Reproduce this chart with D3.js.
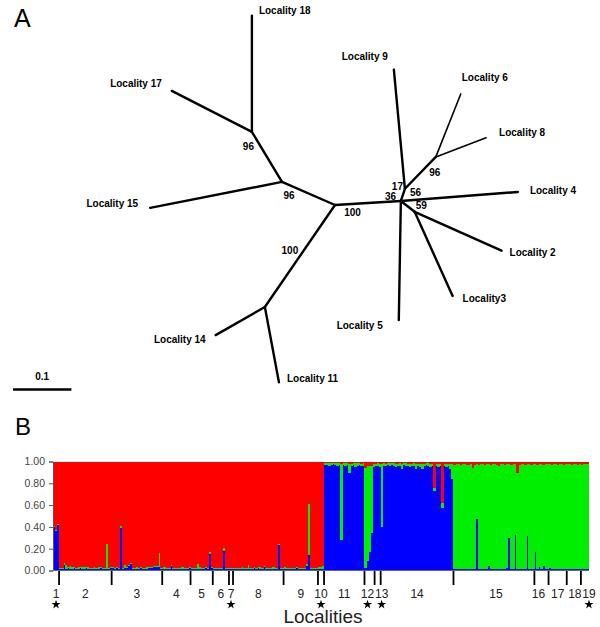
<!DOCTYPE html>
<html>
<head>
<meta charset="utf-8">
<script src="https://cdn.jsdelivr.net/npm/d3@7"></script>
<style>
  body { margin: 0; background: #fff; }
  svg { display: block; font-family: "Liberation Sans", Arial, sans-serif; }
</style>
</head>
<body>
<svg id="viz"></svg>
<script>
// ---- panel A: unrooted tree (branch length, angle in degrees) ----
const treeEdges = [
  ["C", "N96a", 0.099, 156.5],
  ["N96a", "N96top", 0.100, 121.0],
  ["N96top", "L18", 0.199, 90.0],
  ["N96top", "L17", 0.154, 152.9],
  ["N96a", "L15", 0.230, 191.1],
  ["C", "N100", 0.212, 235.5],
  ["N100", "L14", 0.097, 209.7],
  ["N100", "L11", 0.131, 280.6],
  ["C", "H", 0.113, 3.5],
  ["H", "N17", 0.022, 71.6],
  ["N17", "L9", 0.205, 95.3],
  ["N17", "N96b", 0.076, 45.9],
  ["N96b", "L6", 0.116, 68.4],
  ["N96b", "L8", 0.092, 20.8],
  ["H", "L4", 0.201, 4.4],
  ["H", "N59", 0.030, 321.8],
  ["N59", "L2", 0.163, 335.9],
  ["N59", "L3", 0.158, 294.3],
  ["H", "L5", 0.204, 269.0]
];
const leafNames = {
  L18: "Locality 18", L17: "Locality 17", L15: "Locality 15", L14: "Locality 14",
  L11: "Locality 11", L9: "Locality 9", L6: "Locality 6", L8: "Locality 8",
  L4: "Locality 4", L2: "Locality 2", L3: "Locality3", L5: "Locality 5"
};
const bootstrap = [
  ["N96top", "96"], ["N96a", "96"], ["C", "100"], ["N100", "100"],
  ["N17", "17"], ["H", "36"], ["H", "56"], ["N59", "59"], ["N96b", "96"]
];

// ---- panel B: membership coefficients per individual ----
const localities = ["1","2","3","4","5","6","7","8","9","10","11","12","13","14","15","16","17","18","19"];
const counts = [3, 26, 25, 14, 11, 8, 2, 25, 17, 3, 20, 5, 3, 36, 40, 7, 9, 7, 4];
const starred = ["1", "7", "10", "12", "13", "19"];
const yTicks = [0, 0.2, 0.4, 0.6, 0.8, 1.0];

const blue = [
  // 1
  0.40,0.36,0.42,
  // 2
  0.01,0.01,0.05,0.01,0.02,0.01,0.01,0.02,0.01,0.01,0.02,0.01,0.01,0.02,0.01,0.01,0.01,0.01,0.01,0.01,0.02,0.01,0.01,0.01,0.01,0.02,
  // 3
  0.02,0.01,0.02,0.01,0.39,0.01,0.02,0.02,0.04,0.06,0.01,0.01,0.01,0.01,0.02,0.01,0.01,0.01,0.02,0.02,0.03,0.03,0.03,0.03,0.01,
  // 4
  0.01,0.01,0.01,0.01,0.04,0.01,0.01,0.01,0.01,0.01,0.01,0.01,0.01,0.02,
  // 5
  0.01,0.01,0.01,0.01,0.01,0.01,0.01,0.02,0.01,0.15,0.02,
  // 6
  0.01,0.01,0.01,0.01,0.01,0.18,0.01,0.01,
  // 7
  0.01,0.01,
  // 8
  0.01,0.01,0.01,0.01,0.01,0.01,0.01,0.01,0.01,0.01,0.02,0.01,0.02,0.01,0.01,0.03,0.01,0.01,0.01,0.01,0.01,0.01,0.23,0.01,0.01,
  // 9
  0.01,0.01,0.01,0.01,0.01,0.01,0.02,0.01,0.01,0.01,0.01,0.04,0.14,0.01,0.01,0.01,0.01,
  // 10
  0.01,0.01,0.01,
  // 11
  0.97,0.97,0.96,0.97,0.98,0.97,0.96,0.97,0.28,0.97,0.96,0.97,0.89,0.96,0.97,0.95,0.96,0.97,0.96,0.96,
  // 12
  0.02,0.09,0.17,0.34,0.95,
  // 13
  0.96,0.96,0.95,
  // 14
  0.40,0.96,0.96,0.97,0.96,0.97,0.96,0.95,0.96,0.96,0.93,0.97,0.96,0.96,0.95,0.96,0.96,0.93,0.96,0.95,0.93,0.96,0.97,0.96,0.95,0.96,0.73,0.96,0.95,0.96,0.57,0.96,0.95,0.96,0.93,0.84,
  // 15
  0.01,0.01,0.01,0.01,0.01,0.01,0.01,0.01,0.01,0.01,0.01,0.47,0.01,0.01,0.01,0.01,0.01,0.04,0.01,0.01,0.01,0.01,0.01,0.01,0.01,0.01,0.02,0.30,0.01,0.01,0.33,0.01,0.01,0.01,0.01,0.01,0.32,0.01,0.01,0.01,
  // 16
  0.17,0.01,0.03,0.01,0.04,0.01,0.01,
  // 17
  0.02,0.01,0.01,0.01,0.01,0.01,0.01,0.01,0.01,
  // 18
  0.01,0.01,0.01,0.01,0.01,0.01,0.01,
  // 19
  0.01,0.01,0.01,0.01
];

const green = [
  // 1
  0.01,0.01,0.01,
  // 2
  0.01,0.01,0.02,0.04,0.01,0.03,0.02,0.01,0.01,0.02,0.01,0.02,0.02,0.01,0.02,0.01,0.01,0.02,0.01,0.02,0.01,0.01,0.01,0.23,0.01,0.01,
  // 3
  0.01,0.01,0.01,0.01,0.02,0.01,0.03,0.01,0.01,0.01,0.01,0.01,0.02,0.01,0.01,0.01,0.01,0.02,0.01,0.01,0.01,0.01,0.01,0.13,0.01,
  // 4
  0.02,0.02,0.01,0.01,0.01,0.01,0.01,0.01,0.01,0.02,0.02,0.01,0.01,0.01,
  // 5
  0.01,0.01,0.01,0.05,0.02,0.01,0.01,0.01,0.01,0.02,0.01,
  // 6
  0.01,0.01,0.01,0.01,0.01,0.03,0.01,0.01,
  // 7
  0.01,0.01,
  // 8
  0.01,0.01,0.01,0.01,0.02,0.01,0.01,0.04,0.01,0.01,0.01,0.01,0.01,0.02,0.01,0.01,0.01,0.01,0.01,0.02,0.02,0.01,0.01,0.01,0.01,
  // 9
  0.02,0.01,0.01,0.01,0.01,0.01,0.01,0.01,0.01,0.01,0.01,0.02,0.47,0.01,0.01,0.01,0.01,
  // 10
  0.02,0.02,0.03,
  // 11
  0.02,0.02,0.03,0.02,0.01,0.02,0.03,0.02,0.70,0.02,0.03,0.02,0.09,0.02,0.02,0.04,0.03,0.02,0.02,0.03,
  // 12
  0.92,0.87,0.79,0.62,0.03,
  // 13
  0.02,0.03,0.03,
  // 14
  0.58,0.03,0.02,0.02,0.03,0.02,0.03,0.03,0.02,0.03,0.05,0.02,0.03,0.02,0.03,0.02,0.03,0.05,0.02,0.03,0.05,0.02,0.02,0.03,0.03,0.02,0.03,0.02,0.03,0.02,0.05,0.02,0.03,0.02,0.05,0.14,
  // 15
  0.96,0.97,0.97,0.96,0.97,0.97,0.96,0.96,0.97,0.93,0.96,0.51,0.96,0.97,0.97,0.96,0.97,0.94,0.96,0.97,0.97,0.96,0.95,0.97,0.97,0.96,0.96,0.68,0.96,0.97,0.65,0.88,0.96,0.97,0.97,0.96,0.66,0.97,0.96,0.97,
  // 16
  0.81,0.96,0.95,0.97,0.93,0.97,0.97,
  // 17
  0.96,0.96,0.97,0.97,0.96,0.97,0.97,0.96,0.97,
  // 18
  0.97,0.97,0.96,0.97,0.97,0.96,0.97,
  // 19
  0.96,0.97,0.97,0.97
];

const colors = { blue: "#0000ff", green: "#00ee00", red: "#ff0000" };

const svg = d3.select("#viz").attr("width", 600).attr("height", 627);

// ================= Panel A =================
svg.append("text").attr("x", 14).attr("y", 27)
  .attr("font-size", 25).text("A");

const xT = d3.scaleLinear().domain([0, 0.1]).range([335, 393.4]);
const yT = d3.scaleLinear().domain([0, 0.1]).range([205, 146.6]);

const pos = { C: [0, 0] };
treeEdges.forEach(([from, to, len, ang]) => {
  const a = ang * Math.PI / 180;
  pos[to] = [pos[from][0] + len * Math.cos(a), pos[from][1] + len * Math.sin(a)];
});
const px = n => [xT(pos[n][0]), yT(pos[n][1])];

const thin = ["L6", "L8"];
svg.append("g").selectAll("line")
  .data(treeEdges)
  .join("line")
  .attr("x1", d => px(d[0])[0]).attr("y1", d => px(d[0])[1])
  .attr("x2", d => px(d[1])[0]).attr("y2", d => px(d[1])[1])
  .attr("stroke", "#000")
  .attr("stroke-width", d => thin.includes(d[1]) ? 1.6 : 2.4)
  .attr("stroke-linecap", "round");

// label placement next to the leaf tips
const leafLabelPos = {
  L18: [7, -5, "start"], L17: [-10, -7, "end"], L15: [-12, -4, "end"],
  L14: [-10, 4, "end"], L11: [8, -4, "start"], L9: [-6, -13, "end"],
  L6: [1, -16, "start"], L8: [13, -5, "start"], L4: [12, -1, "start"],
  L2: [8, 2, "start"], L3: [10, 3, "start"], L5: [-16, 5, "end"]
};
svg.append("g").selectAll("text")
  .data(Object.keys(leafNames))
  .join("text")
  .attr("x", d => px(d)[0] + leafLabelPos[d][0])
  .attr("y", d => px(d)[1] + leafLabelPos[d][1])
  .attr("text-anchor", d => leafLabelPos[d][2])
  .attr("dominant-baseline", "central")
  .attr("font-size", 10).attr("font-weight", "bold")
  .text(d => leafNames[d]);

const bootOffset = [[-3.5, 15], [7, 14], [17.5, 7.7], [25, -57], [-7.5, -2.3], [-10.3, -4.3], [14.7, -8.3], [6.7, -6.3], [-1, 15.3]];
svg.append("g").selectAll("text")
  .data(bootstrap)
  .join("text")
  .attr("x", (d, i) => px(d[0])[0] + bootOffset[i][0])
  .attr("y", (d, i) => px(d[0])[1] + bootOffset[i][1])
  .attr("text-anchor", "middle")
  .attr("dominant-baseline", "central")
  .attr("font-size", 10).attr("font-weight", "bold")
  .text(d => d[1]);

// scale bar 0.1
const sb0 = xT.invert(13);
svg.append("line")
  .attr("x1", xT(sb0)).attr("x2", xT(sb0 + 0.1))
  .attr("y1", 389.5).attr("y2", 389.5)
  .attr("stroke", "#000").attr("stroke-width", 2.5);
svg.append("text")
  .attr("x", (xT(sb0) + xT(sb0 + 0.1)) / 2).attr("y", 376)
  .attr("text-anchor", "middle").attr("dominant-baseline", "central")
  .attr("font-size", 10).attr("font-weight", "bold").text("0.1");

// ================= Panel B =================
svg.append("text").attr("x", 15).attr("y", 435)
  .attr("font-size", 24).text("B");

const N = blue.length;
const x = d3.scaleBand().domain(d3.range(N)).range([53, 589]).paddingInner(0).paddingOuter(0);
const y = d3.scaleLinear().domain([0, 1]).range([570.5, 461.5]);

const rows = d3.range(N).map(i => ({
  i,
  blue: blue[i],
  green: green[i],
  red: Math.max(0, 1 - blue[i] - green[i])
}));
const stack = d3.stack().keys(["blue", "green", "red"])(rows);

svg.append("g").attr("shape-rendering", "crispEdges")
  .selectAll("g")
  .data(stack)
  .join("g")
  .attr("fill", d => colors[d.key])
  .selectAll("rect")
  .data(d => d)
  .join("rect")
  .attr("x", d => x(d.data.i))
  .attr("width", x.bandwidth() + 0.4)
  .attr("y", d => y(d[1]))
  .attr("height", d => y(d[0]) - y(d[1]));

const yAxis = svg.append("g")
  .attr("transform", "translate(53,0)")
  .call(d3.axisLeft(y).tickValues(yTicks).tickFormat(d3.format(".2f")).tickSize(4).tickPadding(4));
yAxis.select(".domain").attr("stroke", "#555");
yAxis.selectAll(".tick line").attr("stroke", "#555");
yAxis.selectAll("text").attr("font-size", 10.5).attr("fill", "#444")
  .attr("font-family", "Liberation Sans, Arial, sans-serif");

svg.append("line").attr("x1", 53).attr("x2", 589)
  .attr("y1", y(0)).attr("y2", y(0)).attr("stroke", "#777").attr("stroke-width", 0.8);

// locality boundaries
const ends = d3.cumsum(counts);
const starts = [0, ...ends.slice(0, -1)];
svg.append("g").selectAll("line")
  .data(ends.slice(0, -1))
  .join("line")
  .attr("x1", d => x(d)).attr("x2", d => x(d))
  .attr("y1", 571).attr("y2", 585)
  .attr("stroke", "#000").attr("stroke-width", 1.8);

const labelNudge = { "12": -2, "13": 4, "15": 2, "16": -3, "18": 1, "19": 4 };
const labX = (d, i) => (x(starts[i]) + x(ends[i] - 1) + x.bandwidth()) / 2 + (labelNudge[d] || 0);
svg.append("g").selectAll("text")
  .data(localities)
  .join("text")
  .attr("x", labX)
  .attr("y", 598)
  .attr("text-anchor", "middle")
  .attr("font-size", 12).attr("fill", "#222")
  .text(d => d);

svg.append("g").selectAll("path")
  .data(localities.map((d, i) => [d, i]).filter(d => starred.includes(d[0])))
  .join("path")
  .attr("transform", d => `translate(${labX(d[0], d[1])},604.5)`)
  .attr("d", d3.symbol(d3.symbolStar, 26))
  .attr("fill", "#000");

svg.append("text")
  .attr("x", 323).attr("y", 623)
  .attr("text-anchor", "middle")
  .attr("font-size", 19).attr("fill", "#222")
  .text("Localities");
</script>
</body>
</html>
